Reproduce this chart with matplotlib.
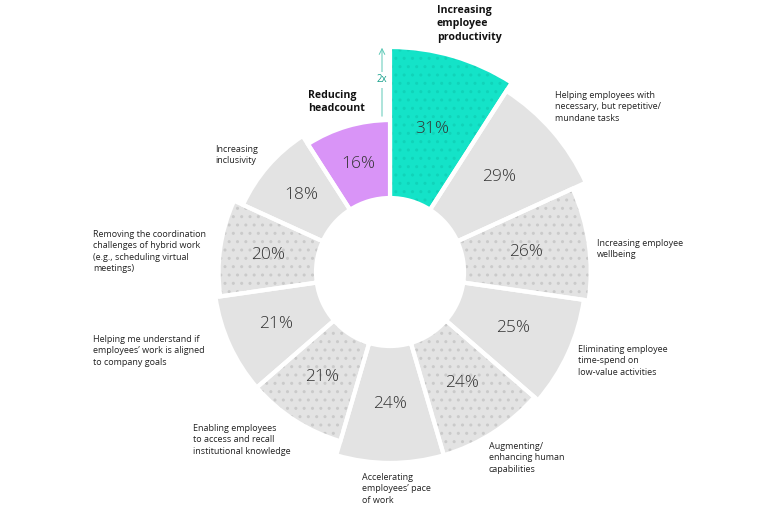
import numpy as np
import matplotlib.pyplot as plt

plt.rcParams["font.family"] = ["Open Sans", "DejaVu Sans"]

# ── data (clockwise from 12 o'clock) ──
values = [31, 29, 26, 25, 24, 24, 21, 21, 20, 18, 16]
labels = [
    "Increasing\nemployee\nproductivity",
    "Helping employees with\nnecessary, but repetitive/\nmundane tasks",
    "Increasing employee\nwellbeing",
    "Eliminating employee\ntime-spend on\nlow-value activities",
    "Augmenting/\nenhancing human\ncapabilities",
    "Accelerating\nemployees’ pace\nof work",
    "Enabling employees\nto access and recall\ninstitutional knowledge",
    "Helping me understand if\nemployees’ work is aligned\nto company goals",
    "Removing the coordination\nchallenges of hybrid work\n(e.g., scheduling virtual\nmeetings)",
    "Increasing\ninclusivity",
    "Reducing\nheadcount",
]
highlight = {0: "#14E3C8", 10: "#D994F7"}
dotted = [0, 2, 4, 6, 8]

# label anchor points (pixels, top-left of text block)
label_pos = [
    (437, 5), (555, 91), (597, 239), (578, 345), (489, 442), (362, 473),
    (193, 424), (93, 335), (93, 230), (215, 145), (308, 90),
]

W, H = 760, 513
GREY = "#E3E3E3"
HOLE = 15.2


def px(x, y):
    return x / W, 1 - y / H


fig = plt.figure(figsize=(W / 100, H / 100), dpi=100)
ax = fig.add_axes([0.1928, -0.0049, 0.6408, 0.9493], projection="polar")
ax.set_theta_zero_location("N")
ax.set_theta_direction(-1)
ax.set_ylim(0, 50)
ax.axis("off")

n = len(values)
width = 2 * np.pi / n
theta = np.arange(n) * width + width / 2
colors = [highlight.get(i, GREY) for i in range(n)]

# fills (with faint dot texture) then white separators on top
for i in range(n):
    hatch_col = "#10D3B9" if i == 0 else "#CACACA"
    ax.bar(theta[i], values[i], width=width, bottom=HOLE, color=colors[i],
           edgecolor=hatch_col, linewidth=0,
           hatch=".." if i in dotted else None)
ax.bar(theta, values, width=width, bottom=HOLE, fill=False,
       edgecolor="white", linewidth=3)

for t, v in zip(theta, values):
    ax.text(t, HOLE + v / 2, f"{v}%", ha="center", va="center",
            fontsize=12.5, fontweight="light", color="#333333")

for i, (lab, (x, y)) in enumerate(zip(labels, label_pos)):
    bold = i in highlight
    fig.text(*px(x, y), lab, ha="left", va="top",
             fontsize=7.6 if bold else 6.5,
             fontweight="bold" if bold else "normal",
             color="#111111" if bold else "#222222",
             linespacing=1.3 if bold else 1.35)

# 2x comparison marker
ax.annotate("", xy=px(382, 45), xycoords="figure fraction",
            xytext=px(382, 119), textcoords="figure fraction",
            arrowprops=dict(arrowstyle="->", color="#5CC8B6", lw=0.7))
fig.text(*px(382, 80), "2x", ha="center", va="center", fontsize=7,
         color="#17A08B",
         bbox=dict(facecolor="white", edgecolor="none", pad=1.5))

fig.savefig("out.png", dpi=100)
